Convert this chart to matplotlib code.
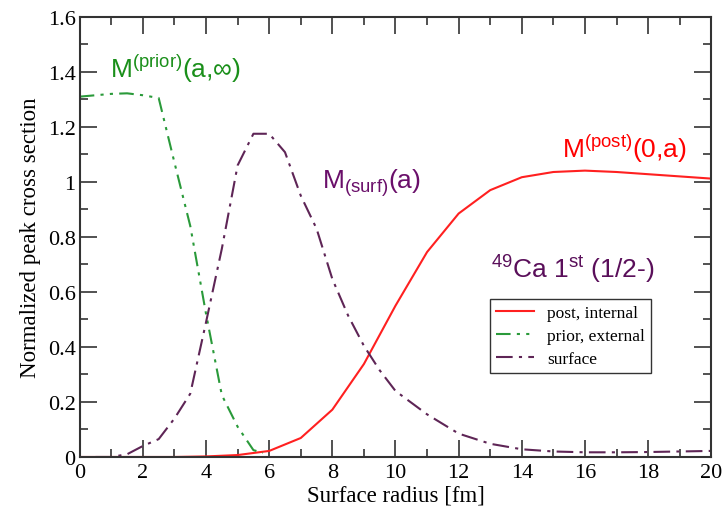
import numpy as np
import matplotlib.pyplot as plt
from matplotlib.ticker import MultipleLocator, FormatStrFormatter

plt.rcParams['mathtext.fontset'] = 'custom'
plt.rcParams['mathtext.rm'] = 'Liberation Sans'

# post, internal
r_post = [0, 1, 2, 3, 4, 5, 6, 7, 8, 9, 10, 11, 12, 13, 14, 15, 16, 17, 18, 19, 20]
m_post = [0.0, 0.0, 0.0, 0.0, 0.002, 0.007, 0.022, 0.069, 0.172, 0.338, 0.55,
          0.745, 0.885, 0.97, 1.017, 1.036, 1.041, 1.036, 1.028, 1.02, 1.012]

# prior, external
r_prior = [0, 0.5, 1, 1.5, 2, 2.5, 3, 3.5, 4, 4.5, 5, 5.5, 5.8]
m_prior = [1.31, 1.315, 1.32, 1.322, 1.315, 1.305, 1.07, 0.84, 0.52, 0.225,
           0.11, 0.025, 0.015]

# surface
r_surf = [0.5, 1, 1.5, 2, 2.5, 3, 3.5, 4, 4.5, 5, 5.5, 6, 6.5, 7, 7.5, 8, 8.5,
          9, 9.5, 10, 11, 12, 13, 14, 15, 16, 17, 18, 19, 20]
m_surf = [0.0, 0.0, 0.01, 0.04, 0.065, 0.14, 0.23, 0.49, 0.757, 1.06, 1.175,
          1.175, 1.108, 0.95, 0.83, 0.647, 0.514, 0.404, 0.315, 0.24, 0.155,
          0.085, 0.048, 0.028, 0.02, 0.017, 0.017, 0.018, 0.02, 0.022]

fig = plt.figure(figsize=(7.25, 5.1), dpi=100)
ax = fig.add_axes([0.110, 0.102, 0.871, 0.863])

ax.plot(r_post, m_post, color='#ff2020', lw=1.5, label='post, internal')
ax.plot(r_prior, m_prior, color='#2a9a3a', lw=1.5,
        dashes=[7, 3, 1.5, 3, 1.5, 3], label='prior, external')
ax.plot(r_surf, m_surf, color='#5e2556', lw=1.5,
        dashes=[8, 3, 1.5, 3], label='surface')

ax.set_xlim(0, 20)
ax.set_ylim(0, 1.6)
ax.xaxis.set_major_locator(MultipleLocator(2))
ax.xaxis.set_minor_locator(MultipleLocator(1))
ax.yaxis.set_major_locator(MultipleLocator(0.2))
ax.yaxis.set_minor_locator(MultipleLocator(0.1))
ax.yaxis.set_major_formatter(FormatStrFormatter('%g'))
ax.tick_params(which='both', direction='in', top=True, right=True,
               width=1.2, color='#333333')
ax.tick_params(which='major', length=12, labelsize=16)
ax.tick_params(axis='x', which='major', pad=4)
ax.tick_params(axis='y', which='major', pad=3)
ax.tick_params(which='minor', length=6)
for lab in ax.get_xticklabels() + ax.get_yticklabels():
    lab.set_fontfamily('Liberation Serif')
for s in ax.spines.values():
    s.set_linewidth(1.5)
    s.set_color('#333333')

ax.set_xlabel('Surface radius [fm]', fontfamily='Liberation Serif',
              fontsize=16.5, labelpad=2)
ax.set_ylabel('Normalized peak cross section', fontfamily='Liberation Serif',
              fontsize=16.5, labelpad=5)

sans = 'Liberation Sans'
ax.text(0.95, 1.38, r'M$^{\mathrm{(prior)}}$(a,∞)', color='#1a8f1a',
        fontsize=19, fontfamily=sans)
ax.text(7.67, 0.98, r'M$_{\mathrm{(surf)}}$(a)', color='#6a0f6a',
        fontsize=19, fontfamily=sans)
ax.text(15.28, 1.09, r'M$^{\mathrm{(post)}}$(0,a)', color='#ff0000',
        fontsize=19, fontfamily=sans)
ax.text(13.03, 0.655, r'$^{\mathrm{49}}$Ca 1$^{\mathrm{st}}$ (1/2-)',
        color='#5a0f5a', fontsize=19, fontfamily=sans)

leg = ax.legend(loc='upper left', bbox_to_anchor=(0.6498, 0.359),
                borderaxespad=0,
                prop={'family': 'Liberation Serif', 'size': 12.5},
                frameon=True, fancybox=False, handlelength=2.2,
                borderpad=0.35, labelspacing=0.4, handletextpad=0.75)
leg.get_frame().set_edgecolor('black')
leg.get_frame().set_linewidth(1.0)

fig.savefig('out.png', dpi=100)
